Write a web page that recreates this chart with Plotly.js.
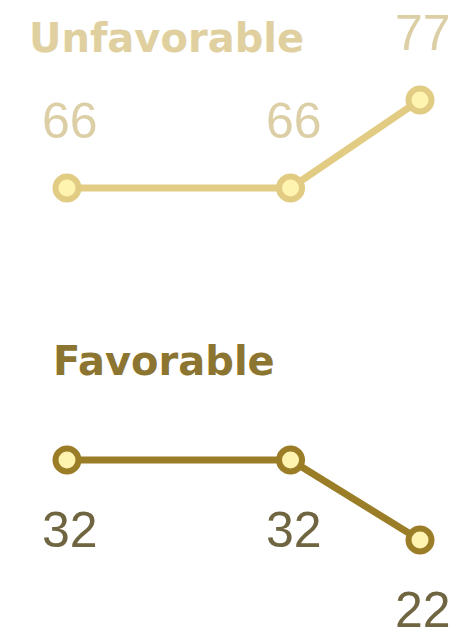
<!DOCTYPE html>
<html>
<head>
<meta charset="utf-8">
<script src="https://cdn.plot.ly/plotly-3.0.1.min.js"></script>
<style>html,body{margin:0;padding:0;background:#fff;}#chart{width:454px;height:632px;}</style>
</head>
<body>
<div id="chart"></div>
<script>
var dates = ['2019-08-01', '2020-08-01', '2021-03-01'];
var seriesNames = ['Unfavorable', 'Favorable'];
var unfavorable = [66, 66, 77];
var favorable = [32, 32, 22];

var lineColors = ['#e2cb82', '#9a7d26'];
var labelColors = ['#dccfa6', '#6f6540'];
var seriesValues = [unfavorable, favorable];

var traces = seriesValues.map(function (vals, i) {
  return {
    x: dates, y: vals, type: 'scatter', mode: 'lines+markers',
    line: {color: lineColors[i], width: 7},
    marker: {size: 23, color: '#fff3b0', line: {color: lineColors[i], width: 6}},
    hoverinfo: 'skip', showlegend: false, cliponaxis: false
  };
});

var annotations = [];
seriesValues.forEach(function (vals, i) {
  vals.forEach(function (v, j) {
    annotations.push({
      x: dates[j], y: v, xref: 'x', yref: 'y', text: String(v), showarrow: false,
      xshift: 3, yshift: i === 0 ? 67 : -70,
      font: {family: 'Liberation Sans, Arial, sans-serif', size: 50, color: labelColors[i]}
    });
  });
});
annotations.push({
  xref: 'paper', yref: 'paper', x: 27 / 454, y: 1 - 38 / 632, xanchor: 'left', yanchor: 'middle',
  text: '<b>' + seriesNames[0] + '</b>', showarrow: false,
  font: {family: 'DejaVu Sans, sans-serif', size: 40, color: '#e0d0a0'}
});
annotations.push({
  xref: 'paper', yref: 'paper', x: 51 / 454, y: 1 - 361 / 632, xanchor: 'left', yanchor: 'middle',
  text: '<b>' + seriesNames[1] + '</b>', showarrow: false,
  font: {family: 'DejaVu Sans, sans-serif', size: 40, color: '#8c7530'}
});

// x-range: map first date to px 67 and last to px 420 on a 454px-wide plot
var t0 = new Date(dates[0]).getTime(), t2 = new Date(dates[2]).getTime();
var msPerPx = (t2 - t0) / (420 - 67);
var xr = [new Date(t0 - 67 * msPerPx).toISOString(), new Date(t2 + (454 - 420) * msPerPx).toISOString()];

var layout = {
  width: 454, height: 632,
  margin: {l: 0, r: 0, t: 0, b: 0},
  paper_bgcolor: '#ffffff', plot_bgcolor: '#ffffff',
  xaxis: {type: 'date', range: xr, visible: false, fixedrange: true},
  yaxis: {range: [10.5, 89.5], visible: false, fixedrange: true},
  annotations: annotations,
  showlegend: false
};

Plotly.newPlot('chart', traces, layout, {displayModeBar: false, staticPlot: true});
</script>
</body>
</html>
